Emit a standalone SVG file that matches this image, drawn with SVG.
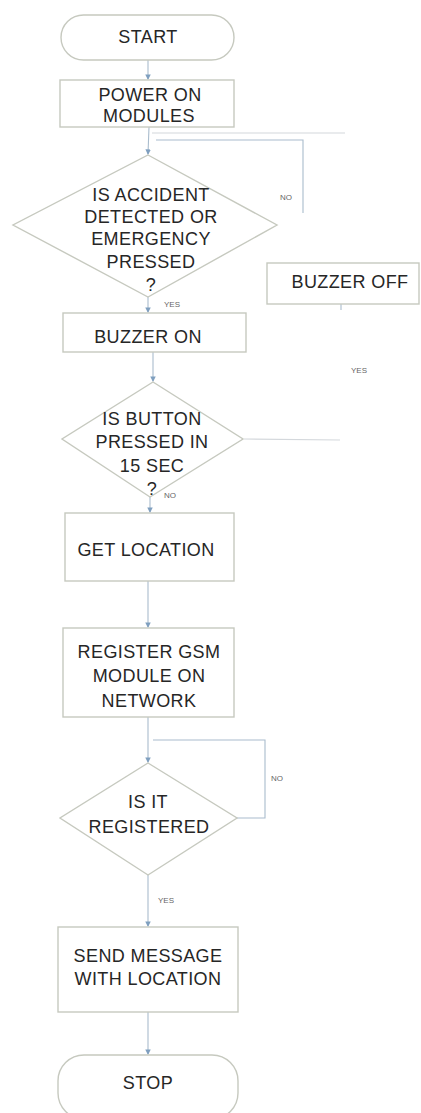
<svg xmlns="http://www.w3.org/2000/svg" width="421" height="1113" viewBox="0 0 421 1113">
<defs>
<marker id="arr" viewBox="0 0 6 6" refX="5" refY="3" markerWidth="5" markerHeight="5" orient="auto">
<path d="M0,0 L6,3 L0,6 z" fill="#7f9fbf"/>
</marker>
</defs>
<style>
.shape{fill:#ffffff;stroke:#c6c9bf;stroke-width:1.4}
.t{font-family:"Liberation Sans",Arial,sans-serif;font-size:18px;fill:#262626;text-anchor:middle;letter-spacing:0.4px}
.lbl{font-family:"Liberation Sans",Arial,sans-serif;font-size:8px;fill:#666;text-anchor:start}
.c{fill:none;stroke:#a9bccd;stroke-width:1.1}
.cf{fill:none;stroke:#d4d8dc;stroke-width:1.1}
</style>
<rect width="421" height="1113" fill="#ffffff"/>
<g id="connectors">
<line class="c" x1="148" y1="60" x2="148" y2="79" marker-end="url(#arr)"/>
<line class="c" x1="149" y1="127" x2="148" y2="154" marker-end="url(#arr)"/>
<line class="cf" x1="152" y1="133" x2="345" y2="133"/>
<polyline class="c" points="156,140 303,140 303,213"/>
<line class="c" x1="148" y1="297" x2="148" y2="312" marker-end="url(#arr)"/>
<line class="c" x1="341" y1="304" x2="341" y2="310"/>
<line class="c" x1="153" y1="352" x2="153" y2="381" marker-end="url(#arr)"/>
<line class="cf" x1="244" y1="439" x2="340" y2="440"/>
<line class="c" x1="150" y1="497" x2="150" y2="512" marker-end="url(#arr)"/>
<line class="c" x1="148" y1="581" x2="148" y2="627" marker-end="url(#arr)"/>
<line class="c" x1="148" y1="717" x2="148" y2="762" marker-end="url(#arr)"/>
<polyline class="c" points="237,818 265,818 265,740 153,740"/>
<line class="c" x1="148" y1="875" x2="148" y2="926" marker-end="url(#arr)"/>
<line class="c" x1="148" y1="1012" x2="148" y2="1054" marker-end="url(#arr)"/>
</g>
<g id="start">
<rect class="shape" x="61" y="15" width="173" height="45" rx="22.5"/>
<text class="t" x="148" y="43">START</text>
</g>
<g id="power">
<rect class="shape" x="60" y="80" width="174" height="47"/>
<text class="t" x="150" y="101">POWER ON</text>
<text class="t" x="149" y="122">MODULES</text>
</g>
<g id="decision1">
<polygon class="shape" points="148,155 277,225 148,297 13,225"/>
<text class="t" x="151" y="201">IS ACCIDENT</text>
<text class="t" x="151" y="223">DETECTED OR</text>
<text class="t" x="151" y="245">EMERGENCY</text>
<text class="t" x="151" y="268">PRESSED</text>
<text class="t" x="151" y="291">?</text>
</g>
<g id="buzzeroff">
<rect class="shape" x="267" y="263" width="152" height="41"/>
<text class="t" x="350" y="288">BUZZER OFF</text>
</g>
<g id="buzzeron">
<rect class="shape" x="63" y="313" width="183" height="39"/>
<text class="t" x="148" y="343">BUZZER ON</text>
</g>
<g id="decision2">
<polygon class="shape" points="153,382 243,439 150,497 62,439"/>
<text class="t" x="152" y="425">IS BUTTON</text>
<text class="t" x="152" y="448">PRESSED IN</text>
<text class="t" x="152" y="472">15 SEC</text>
<text class="t" x="152" y="495">?</text>
</g>
<g id="getlocation">
<rect class="shape" x="65" y="513" width="169" height="68"/>
<text class="t" x="146" y="556">GET LOCATION</text>
</g>
<g id="register">
<rect class="shape" x="63" y="628" width="171" height="89"/>
<text class="t" x="149" y="658">REGISTER GSM</text>
<text class="t" x="149" y="682">MODULE ON</text>
<text class="t" x="149" y="707">NETWORK</text>
</g>
<g id="decision3">
<polygon class="shape" points="148,763 237,818 148,875 60,818"/>
<text class="t" x="148" y="808">IS IT</text>
<text class="t" x="149" y="833">REGISTERED</text>
</g>
<g id="send">
<rect class="shape" x="58" y="927" width="180" height="85"/>
<text class="t" x="148" y="962">SEND MESSAGE</text>
<text class="t" x="148" y="985">WITH LOCATION</text>
</g>
<g id="stop">
<rect class="shape" x="58" y="1055" width="180" height="64" rx="26"/>
<text class="t" x="148" y="1089">STOP</text>
</g>
<g id="labels">
<text class="lbl" x="280" y="200">NO</text>
<text class="lbl" x="164" y="307">YES</text>
<text class="lbl" x="351" y="373">YES</text>
<text class="lbl" x="164" y="498">NO</text>
<text class="lbl" x="271" y="781">NO</text>
<text class="lbl" x="158" y="903">YES</text>
</g>
</svg>
